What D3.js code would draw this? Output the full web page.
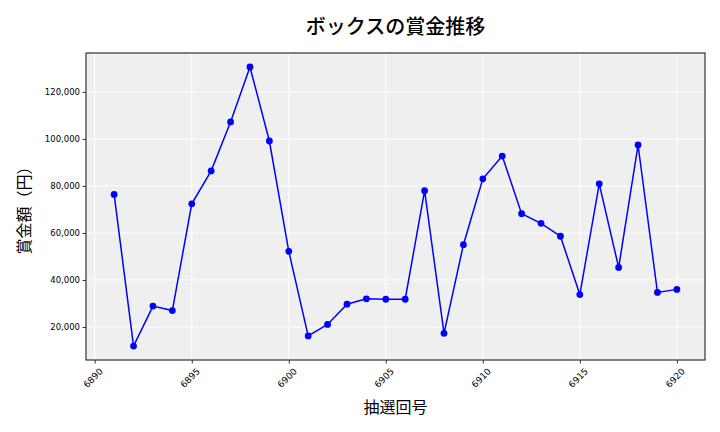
<!DOCTYPE html>
<html>
<head>
<meta charset="utf-8">
<script src="https://cdn.jsdelivr.net/npm/d3@7"></script>
<style>
  html, body { margin: 0; padding: 0; background: #fff; }
  svg { display: block; }
</style>
</head>
<body>
<svg id="chart" width="720" height="432"></svg>
<script>
const title = "ボックスの賞金推移";
const xLabel = "抽選回号";
const yLabel = "賞金額（円）";
const draws = [6891, 6892, 6893, 6894, 6895, 6896, 6897, 6898, 6899, 6900,
               6901, 6902, 6903, 6904, 6905, 6906, 6907, 6908, 6909, 6910,
               6911, 6912, 6913, 6914, 6915, 6916, 6917, 6918, 6919, 6920];
const prizes = [76400, 11900, 28900, 27000, 72400, 86400, 107200, 130600, 99100, 52200,
                16200, 21100, 29700, 32000, 31800, 31800, 78000, 17300, 55000, 83000,
                92700, 68200, 64100, 58600, 33800, 80900, 45300, 97400, 34700, 36000];
const xTicks = [6890, 6895, 6900, 6905, 6910, 6915, 6920];
const yTicks = [20000, 40000, 60000, 80000, 100000, 120000];

const svg = d3.select("#chart");
const L = 86, R = 705, T = 53, B = 360;

const xMin = d3.min(draws), xMax = d3.max(draws);
const xPad = (xMax - xMin) * 0.05;
const yMin = d3.min(prizes), yMax = d3.max(prizes);
const yPad = (yMax - yMin) * 0.05;

const x = d3.scaleLinear().domain([xMin - xPad, xMax + xPad]).range([L, R]);
const y = d3.scaleLinear().domain([yMin - yPad, yMax + yPad]).range([B, T]);

svg.append("rect").attr("x", L).attr("y", T).attr("width", R - L).attr("height", B - T)
  .attr("fill", "#efefef");

// grid
svg.append("g").selectAll("line").data(xTicks).join("line")
  .attr("x1", d => x(d)).attr("x2", d => x(d)).attr("y1", T).attr("y2", B)
  .attr("stroke", "#fff").attr("stroke-width", 1);
svg.append("g").selectAll("line").data(yTicks).join("line")
  .attr("y1", d => y(d)).attr("y2", d => y(d)).attr("x1", L).attr("x2", R)
  .attr("stroke", "#fff").attr("stroke-width", 1);

// axes
const xAxis = svg.append("g").attr("transform", `translate(0,${B})`)
  .call(d3.axisBottom(x).tickValues(xTicks).tickSize(3.5).tickFormat(d3.format("d")));
xAxis.select(".domain").remove();
xAxis.selectAll("line").attr("stroke", "#333");
xAxis.selectAll("text")
  .attr("font-family", "DejaVu Sans").attr("font-size", 9).attr("fill", "#000")
  .attr("text-anchor", "middle").attr("dy", null).attr("y", 0)
  .attr("transform", "translate(-2,18) rotate(-45)")
  .attr("dominant-baseline", "central");

const yAxis = svg.append("g").attr("transform", `translate(${L},0)`)
  .call(d3.axisLeft(y).tickValues(yTicks).tickSize(3.5).tickFormat(d3.format(",")));
yAxis.select(".domain").remove();
yAxis.selectAll("line").attr("stroke", "#333");
yAxis.selectAll("text")
  .attr("font-family", "DejaVu Sans").attr("font-size", 8.5).attr("fill", "#000")
  .attr("x", -6);

// frame
svg.append("rect").attr("x", L).attr("y", T).attr("width", R - L).attr("height", B - T)
  .attr("fill", "none").attr("stroke", "#333").attr("stroke-width", 1.2);

// line
const line = d3.line().x((d, i) => x(draws[i])).y(d => y(d));
svg.append("path").datum(prizes).attr("d", line)
  .attr("fill", "none").attr("stroke", "#0000ff").attr("stroke-width", 1.5);
svg.append("g").selectAll("circle").data(prizes).join("circle")
  .attr("cx", (d, i) => x(draws[i])).attr("cy", d => y(d)).attr("r", 3.4)
  .attr("fill", "#0000ff");

// labels
const jp = "'Noto Sans CJK JP', 'Noto Sans', sans-serif";
svg.append("text").attr("x", (L + R) / 2).attr("y", 25).attr("text-anchor", "middle")
  .attr("dominant-baseline", "central").attr("font-family", jp).attr("font-size", 20)
  .attr("font-weight", 500).attr("fill", "#000").text(title);
svg.append("text").attr("x", (L + R) / 2).attr("y", 406).attr("text-anchor", "middle")
  .attr("dominant-baseline", "central").attr("font-family", jp).attr("font-size", 16)
  .attr("fill", "#000").text(xLabel);
svg.append("text").attr("transform", `translate(23,${(T + B) / 2}) rotate(-90)`)
  .attr("text-anchor", "middle").attr("dominant-baseline", "central")
  .attr("font-family", jp).attr("font-size", 16).attr("fill", "#000").text(yLabel);
</script>
</body>
</html>
